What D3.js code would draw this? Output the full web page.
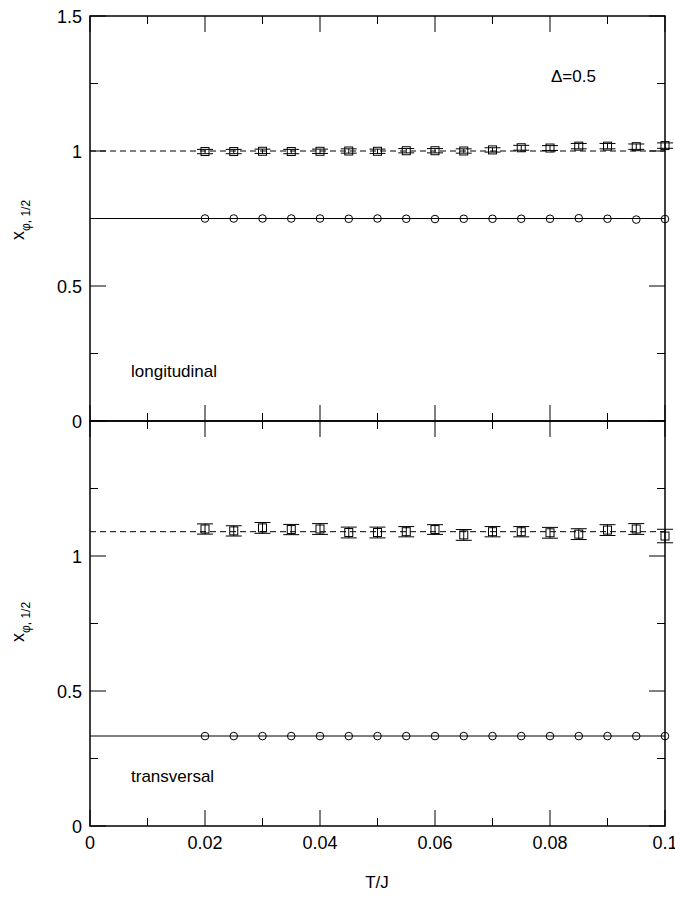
<!DOCTYPE html>
<html><head><meta charset="utf-8">
<script src="https://cdn.jsdelivr.net/npm/d3@7"></script>
<style>body{margin:0;background:#fff}text{font-family:"Liberation Sans",Arial,sans-serif;fill:#000}</style>
</head><body><svg id="c" width="675" height="903"></svg>
<script>
const T = [0.02,0.025,0.03,0.035,0.04,0.045,0.05,0.055,0.06,0.065,0.07,0.075,0.08,0.085,0.09,0.095,0.1];
const longSq = [0.998,0.998,0.999,0.998,0.999,1.0,0.999,1.001,1.001,1.0,1.004,1.012,1.011,1.018,1.018,1.016,1.02];
const longSqErr = [0.008,0.008,0.008,0.008,0.008,0.008,0.008,0.008,0.008,0.008,0.008,0.009,0.009,0.01,0.01,0.01,0.01];
const longCi = [0.75,0.75,0.75,0.75,0.75,0.749,0.75,0.749,0.748,0.749,0.749,0.749,0.749,0.751,0.749,0.746,0.748];
const longDash = 1.0, longSolid = 0.75;
const trSq = [1.10,1.093,1.104,1.098,1.10,1.087,1.087,1.09,1.098,1.078,1.09,1.09,1.086,1.081,1.096,1.10,1.074];
const trSqErr = [0.019,0.019,0.02,0.019,0.02,0.02,0.02,0.019,0.018,0.02,0.019,0.019,0.02,0.02,0.02,0.02,0.025];
const trCi = [0.333,0.333,0.333,0.333,0.333,0.333,0.333,0.333,0.333,0.333,0.333,0.333,0.333,0.333,0.333,0.333,0.333];
const trDash = 1.09, trSolid = 1/3;
const xTicks = [0,0.02,0.04,0.06,0.08,0.1];
const xMinor = [0.01,0.03,0.05,0.07,0.09];
const yTicksTop = [0,0.5,1,1.5];
const yTicksBot = [0,0.5,1];
const yMinor = [0.25,0.75,1.25];

const svg = d3.select("#c");
const L=90,R=665;
const x = d3.scaleLinear().domain([0,0.1]).range([L,R]);
const yTop = d3.scaleLinear().domain([0,1.5]).range([421,16]);
const yBot = d3.scaleLinear().domain([0,1.5]).range([826,421]);

function panel(y, sq, sqErr, ci, dashV, solidV, ticks, label, labelY, ylabY, showX) {
  const g = svg.append("g");
  g.append("line").attr("x1",x(0)).attr("x2",x(0.1)).attr("y1",y(dashV)).attr("y2",y(dashV))
    .attr("stroke","#000").attr("stroke-width",1).attr("stroke-dasharray","6,4");
  g.append("line").attr("x1",x(0)).attr("x2",x(0.1)).attr("y1",y(solidV)).attr("y2",y(solidV))
    .attr("stroke","#000").attr("stroke-width",1);
  T.forEach((t,i)=>{
    const cx=x(t), y1=y(sq[i]+sqErr[i]), y2=y(sq[i]-sqErr[i]);
    g.append("line").attr("x1",cx).attr("x2",cx).attr("y1",y1).attr("y2",y2).attr("stroke","#000");
    [y1,y2].forEach(yy=>g.append("line").attr("x1",cx-8).attr("x2",cx+8).attr("y1",yy).attr("y2",yy).attr("stroke","#000"));
  });
  g.selectAll(".sq").data(T).join("rect").attr("x",(d)=>x(d)-4).attr("y",(d,i)=>y(sq[i])-4)
    .attr("width",8).attr("height",8).attr("fill","none").attr("stroke","#000");
  g.selectAll(".ci").data(T).join("circle").attr("cx",d=>x(d)).attr("cy",(d,i)=>y(ci[i]))
    .attr("r",3.8).attr("fill","none").attr("stroke","#000");
  const y0=y.range()[0], y1=y.range()[1];
  g.append("rect").attr("x",L).attr("y",y1).attr("width",R-L).attr("height",y0-y1)
    .attr("fill","none").attr("stroke","#000").attr("stroke-width",1.5);
  xTicks.forEach(t=>{
    g.append("line").attr("x1",x(t)).attr("x2",x(t)).attr("y1",y0).attr("y2",y0-16).attr("stroke","#000");
    g.append("line").attr("x1",x(t)).attr("x2",x(t)).attr("y1",y1).attr("y2",y1+16).attr("stroke","#000");
  });
  xMinor.forEach(t=>{
    g.append("line").attr("x1",x(t)).attr("x2",x(t)).attr("y1",y0).attr("y2",y0-8).attr("stroke","#000");
    g.append("line").attr("x1",x(t)).attr("x2",x(t)).attr("y1",y1).attr("y2",y1+8).attr("stroke","#000");
  });
  ticks.forEach(t=>{
    g.append("line").attr("x1",L).attr("x2",L+16).attr("y1",y(t)).attr("y2",y(t)).attr("stroke","#000");
    g.append("line").attr("x1",R).attr("x2",R-16).attr("y1",y(t)).attr("y2",y(t)).attr("stroke","#000");
    g.append("text").attr("x",82).attr("y",y(t)+6.5).attr("text-anchor","end").attr("font-size",18).text(d3.format("")(t));
  });
  yMinor.forEach(t=>{
    g.append("line").attr("x1",L).attr("x2",L+8).attr("y1",y(t)).attr("y2",y(t)).attr("stroke","#000");
    g.append("line").attr("x1",R).attr("x2",R-8).attr("y1",y(t)).attr("y2",y(t)).attr("stroke","#000");
  });
  g.append("text").attr("x",131).attr("y",labelY).attr("font-size",17).text(label);
  const yl = g.append("text").attr("transform",`translate(24,${ylabY}) rotate(-90)`).attr("text-anchor","middle").attr("font-size",18);
  yl.append("tspan").text("x");
  yl.append("tspan").attr("dy",6).attr("font-size",12).text("φ, 1/2");
  if (showX) {
    xTicks.forEach(t=>{
      g.append("text").attr("x",x(t)).attr("y",849).attr("text-anchor","middle").attr("font-size",18).text(d3.format("")(t));
    });
  }
}
panel(yTop, longSq, longSqErr, longCi, longDash, longSolid, yTicksTop, "longitudinal", 377, 220, false);
panel(yBot, trSq, trSqErr, trCi, trDash, trSolid, yTicksBot, "transversal", 782, 622, true);
svg.append("text").attr("x",551).attr("y",82).attr("font-size",17).text("Δ=0.5");
svg.append("text").attr("x",377).attr("y",888).attr("text-anchor","middle").attr("font-size",17).text("T/J");
</script></body></html>
